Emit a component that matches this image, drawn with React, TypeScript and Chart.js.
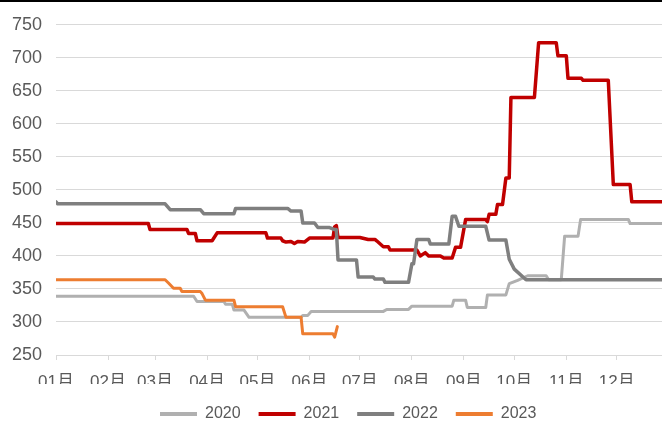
import React, { useEffect, useRef } from 'react';
import { Chart, registerables } from 'chart.js';

Chart.register(...registerables);

// Month starts (day of year) and labels for the x axis
const monthStarts = [0, 31, 59, 90, 120, 151, 181, 212, 243, 273, 304, 334];
const monthLabels = ['01月', '02月', '03月', '04月', '05月', '06月', '07月', '08月', '09月', '10月', '11月', '12月'];

const seriesNames = ['2020', '2021', '2022', '2023'];

// 2020
const days2020 = [0, 82, 84, 100, 101, 105, 106, 112, 115, 146, 147, 150, 152, 195, 197, 210, 212, 236, 237, 244, 245, 256, 257, 268, 270, 275, 281, 292, 293.5, 301, 303, 311, 312.5, 341, 342, 361];
const vals2020 = [339, 339, 331, 331, 327, 327, 318, 318, 307, 307, 310, 310, 316, 316, 319, 319, 324, 324, 333, 333, 322, 322, 341, 341, 358, 363, 370, 370, 364, 364, 430, 430, 455, 455, 449, 449];

// 2021
const days2021 = [0, 55, 56, 78, 79, 83, 84, 93, 96, 125, 126, 134, 135, 137, 140, 142, 144, 148, 151, 165, 166, 167, 168, 181, 186, 190, 191, 195, 198, 199, 215, 217, 220, 222, 229, 231, 236, 238, 241, 244, 256, 257, 258, 262, 263, 266, 268, 270, 271, 285, 287.5, 298, 299, 304, 305, 313, 314, 329, 332, 342, 343, 361];
const vals2021 = [449, 449, 440, 440, 434, 434, 423, 423, 435, 435, 427, 427, 423, 421, 422, 419, 422, 421, 427, 427, 444, 446, 428, 428, 425, 425, 423, 414, 414, 409, 409, 400, 405, 400, 400, 397, 397, 413, 413, 455, 455, 452, 463, 463, 478, 478, 518, 518, 640, 640, 723, 723, 703, 703, 669, 669, 666, 666, 508, 508, 482, 482];

// 2022
const days2022 = [0, 1, 65, 68, 86, 88, 106, 107, 138, 140, 146, 147, 154, 156, 163, 166, 167, 168, 179, 180, 189, 190, 195, 196, 210, 212, 213, 215, 222, 223, 234, 236, 238, 240, 256, 258, 268, 270, 273, 280, 361];
const vals2022 = [482, 479, 479, 470, 470, 464, 464, 472, 472, 468, 468, 450, 450, 443, 443, 440, 440, 394, 394, 368, 368, 365, 365, 360, 360, 388, 388, 425, 425, 418, 418, 460, 460, 445, 445, 424, 424, 395, 380, 364, 364];

// 2023
const days2023 = [0, 65, 67, 70, 74, 75, 86, 87, 89, 106, 107, 135, 137, 146, 147, 165, 166, 167.6];
const vals2023 = [364, 364, 359, 351, 351, 346, 346, 343, 333, 333, 323, 323, 307, 307, 282, 282, 277, 293];

const colors = ['#b0b0b0', '#c00000', '#7f7f7f', '#ed7d31'];
const widths = [3, 3.5, 3.5, 3];

const FONT = "'Liberation Sans', Arial, 'Noto Sans CJK SC', sans-serif";
const TEXT = '#595959';

function toPoints(days: number[], vals: number[]) {
  return days.map((d, i) => ({ x: d, y: vals[i] }));
}

const legendShift = {
  id: 'legendShift',
  afterLayout(chart: any) {
    const lg: any = chart.legend;
    if (!lg || !lg.lineWidths) return;
    const pad = 18;
    const L = lg.lineWidths[0];
    const oldX = (lg.left + pad + lg.right - L) / 2;
    const dx = 160 - oldX;
    lg.left += dx;
    lg.right += dx;
    const dy = 388 - lg.top;
    lg.top += dy;
    lg.bottom += dy;
  },
};

export default function App() {
  const ref = useRef<HTMLCanvasElement | null>(null);

  useEffect(() => {
    document.body.style.margin = '0';
    const canvas = ref.current;
    if (!canvas) return;
    const allDays = [days2020, days2021, days2022, days2023];
    const allVals = [vals2020, vals2021, vals2022, vals2023];
    const chart = new Chart(canvas, {
      type: 'line',
      data: {
        datasets: seriesNames.map((name, i) => ({
          label: name,
          data: toPoints(allDays[i], allVals[i]),
          borderColor: colors[i],
          backgroundColor: colors[i],
          borderWidth: widths[i],
          pointRadius: 0,
          tension: 0,
          borderJoinStyle: 'round' as const,
          borderCapStyle: 'round' as const,
          order: 3 - i,
        })),
      },
      options: {
        animation: false,
        responsive: false,
        maintainAspectRatio: false,
        layout: { padding: { top: 21, left: 0, right: 0, bottom: 0 } },
        scales: {
          x: {
            type: 'linear',
            min: 0,
            max: 361,
            afterBuildTicks: (s: any) => {
              s.ticks = monthStarts.map((v) => ({ value: v }));
            },
            afterFit: (s: any) => {
              s.height = 29;
            },
            grid: { drawOnChartArea: false, drawTicks: true, tickLength: 5, color: '#d9d9d9' },
            border: { display: true, color: '#d9d9d9', width: 1 },
            ticks: {
              autoSkip: false,
              maxRotation: 0,
              padding: 12,
              color: TEXT,
              font: { family: FONT, size: 17 },
              callback: (v: any) => {
                const i = monthStarts.indexOf(Number(v));
                return i >= 0 ? monthLabels[i] : '';
              },
            },
          },
          y: {
            min: 250,
            max: 750,
            afterFit: (s: any) => {
              s.width = 56;
            },
            grid: { color: '#d9d9d9', drawTicks: false, lineWidth: 1 },
            border: { display: false },
            ticks: {
              stepSize: 50,
              padding: 14,
              color: TEXT,
              font: { family: FONT, size: 18 },
            },
          },
        },
        plugins: {
          legend: {
            position: 'bottom',
            labels: {
              boxWidth: 37,
              boxHeight: 4,
              padding: 18,
              color: TEXT,
              font: { family: FONT, size: 16 },
              sort: (a: any, b: any) => a.datasetIndex - b.datasetIndex,
              generateLabels: (c: any) =>
                Chart.defaults.plugins.legend.labels.generateLabels(c).map((l: any) => ({ ...l, lineWidth: 0 })),
            },
          },
          tooltip: { enabled: false },
        },
      },
      plugins: [legendShift],
    } as any);
    return () => chart.destroy();
  }, []);

  return (
    <div style={{ position: 'fixed', left: 0, top: 0, width: 662, height: 428, background: '#fff' }}>
      <canvas ref={ref} width={662} height={428} style={{ display: 'block', width: 662, height: 428 }} />
      <div style={{ position: 'absolute', left: 0, top: 0, width: 662, height: 2, background: '#000' }} />
    </div>
  );
}
